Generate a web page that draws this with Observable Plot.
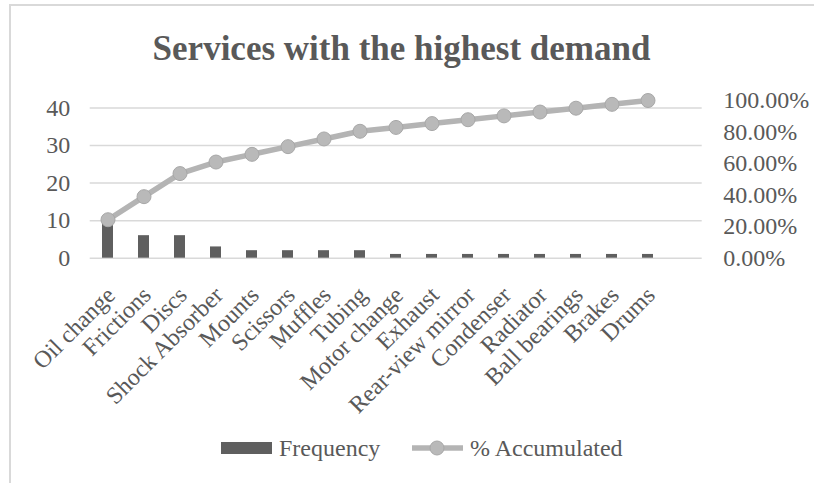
<!DOCTYPE html>
<html><head><meta charset="utf-8">
<script src="https://cdn.jsdelivr.net/npm/d3@7"></script>
<script src="https://cdn.jsdelivr.net/npm/@observablehq/plot@0.6"></script>
<style>
body{margin:0;background:#fff;font-family:"Liberation Serif","Times New Roman",serif;color:#595959;}
#wrap{position:relative;width:814px;height:483px;overflow:hidden;background:#fff;}
#frame{position:absolute;left:9px;top:4px;width:900px;height:600px;border:2px solid #d9d9d9;box-sizing:border-box;}
#title{position:absolute;left:0;top:29px;width:803px;text-align:center;font-size:35px;font-weight:bold;line-height:40px;color:#595959;}
#chart{position:absolute;left:0;top:70px;}
#chart svg text{font-family:"Liberation Serif","Times New Roman",serif !important;}
.leg{position:absolute;top:435px;font-size:24px;line-height:26px;color:#595959;white-space:nowrap;}
</style>
</head><body>
<div id="wrap">
  <div id="frame"></div>
  <div id="title">Services with the highest demand</div>
  <div id="chart"></div>
  <div class="leg" style="left:221px;top:441.7px;width:51px;height:12px;background:#5f5f5f;"></div>
  <div class="leg" id="lf" style="left:279px;">Frequency</div>
  <svg class="leg" style="left:412px;top:440px;" width="52" height="16"><line x1="0" y1="8" x2="51" y2="8" stroke="#b4b4b4" stroke-width="5.5"/><circle cx="25" cy="8" r="7" fill="#b9b9b9" stroke="#a8a8a8" stroke-width="1"/></svg>
  <div class="leg" id="la" style="left:470px;">% Accumulated</div>
</div>
<script>
const categories = ["Oil change","Frictions","Discs","Shock Absorber","Mounts","Scissors","Muffles","Tubing","Motor change","Exhaust","Rear-view mirror","Condenser","Radiator","Ball bearings","Brakes","Drums"];
const frequency = [10,6,6,3,2,2,2,2,1,1,1,1,1,1,1,1];
const leftTicks = [0,10,20,30,40];
const rightTicks = [0,0.2,0.4,0.6,0.8,1];
const leftMax = 42;

const total = d3.sum(frequency);
let run = 0;
const rows = categories.map((c,i)=>({category:c, frequency:frequency[i], accumulated:(run+=frequency[i])/total}));
const accY = d => d.accumulated*leftMax;
const serif = "'Liberation Serif','Times New Roman',serif";

const chart = Plot.plot({
  width:814, height:340,
  marginTop:30, marginBottom:152.3, marginLeft:89.7, marginRight:112.3,
  style:{fontFamily:serif, fontSize:"24px", color:"#595959", background:"transparent", overflow:"visible"},
  x:{domain:[...categories,""], paddingInner:0.69, paddingOuter:0.345, label:null, axis:null},
  y:{domain:[0,leftMax], label:null, axis:null},
  marks:[
    Plot.gridY(leftTicks,{stroke:"#d9d9d9", strokeOpacity:1, strokeWidth:1.5}),
    Plot.axisY(leftTicks,{anchor:"left", tickSize:0, tickPadding:20, label:null, fontFamily:serif, fontSize:24}),
    Plot.axisY(rightTicks.map(t=>t*leftMax),{anchor:"right", tickSize:0, tickPadding:21, label:null, fontFamily:serif, fontSize:24, tickFormat:v=>(v/leftMax*100).toFixed(2)+"%"}),
    Plot.axisX(categories,{anchor:"bottom", tickSize:0, tickPadding:33, dx:3, tickRotate:-45, label:null, fontFamily:serif, fontSize:24}),
    Plot.barY(rows,{x:"category", y:"frequency", fill:"#5f5f5f"}),
    Plot.line(rows,{x:"category", y:accY, stroke:"#b4b4b4", strokeWidth:5.5}),
    Plot.dot(rows,{x:"category", y:accY, r:7, fill:"#b9b9b9", stroke:"#a8a8a8", strokeWidth:1})
  ]
});
document.getElementById("chart").appendChild(chart);
</script>
</body></html>
